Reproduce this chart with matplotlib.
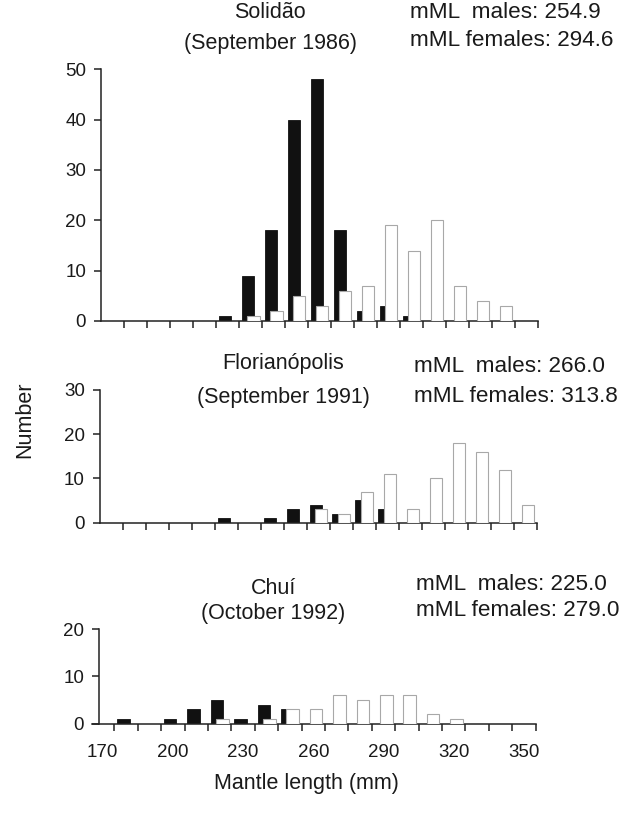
import matplotlib
matplotlib.use('Agg')
import matplotlib.pyplot as plt

plt.rcParams['font.family'] = ['Liberation Sans', 'DejaVu Sans']

# size classes (mm), class midpoints
classes = [170, 180, 190, 200, 210, 220, 230, 240, 250, 260,
           270, 280, 290, 300, 310, 320, 330, 340, 350]

# Solidao, September 1986
solidao_males = [0, 0, 0, 0, 0, 1, 9, 18, 40, 48, 18, 2, 3, 1, 0, 0, 0, 0, 0]
solidao_females = [0, 0, 0, 0, 0, 0, 1, 2, 5, 3, 6, 7, 19, 14, 20, 7, 4, 3, 0]

# Florianopolis, September 1991
floripa_males = [0, 0, 0, 0, 0, 1, 0, 1, 3, 4, 2, 5, 3, 0, 0, 0, 0, 0, 0]
floripa_females = [0, 0, 0, 0, 0, 0, 0, 0, 0, 3, 2, 7, 11, 3, 10, 18, 16, 12, 4]

# Chui, October 1992
chui_males = [0, 1, 0, 1, 3, 5, 1, 4, 3, 0, 0, 0, 0, 0, 0, 0, 0, 0, 0]
chui_females = [0, 0, 0, 0, 0, 1, 0, 1, 3, 3, 6, 5, 6, 6, 2, 1, 0, 0, 0]

titles = ['Solidão', 'Florianópolis', 'Chuí']
dates = ['(September 1986)', '(September 1991)', '(October 1992)']
mml_males = ['254.9', '266.0', '225.0']
mml_females = ['294.6', '313.8', '279.0']
ymax = [50, 30, 20]

txt = '#1a1a1a'
W, H = 619, 816
fig = plt.figure(figsize=(W / 100, H / 100), dpi=100)


def fx(px):
    return px / W


def fy(py):
    return 1 - py / H


# axes boxes in pixels: left, right, y of zero, y of top tick
boxes = [(101.3, 537.7, 321.0, 69.3),
         (100.0, 536.5, 522.5, 390.0),
         (92.3, 535.7, 723.5, 629.0)]
xlims = [(165, 355), (165, 355), (165.6, 355)]
males = [solidao_males, floripa_males, chui_males]
females = [solidao_females, floripa_females, chui_females]

for i in range(3):
    l, r, y0, y1 = boxes[i]
    ax = fig.add_axes([fx(l), fy(y0), fx(r - l), (y0 - y1) / H])
    xm = [c - 1.15 for c in classes]
    xf = [c + 1.2 for c in classes]
    ax.bar(xm, males[i], width=5.3, color='#111111', edgecolor='#111111',
           linewidth=0.6, zorder=2)
    hf = [v if v > 0 else float('nan') for v in females[i]]
    ax.bar(xf, hf, width=5.4, color='white', edgecolor='#a8a8a8',
           linewidth=0.8, zorder=3)
    ax.set_xlim(*xlims[i])
    ax.set_ylim(0, ymax[i])
    ax.set_yticks(range(0, ymax[i] + 1, 10))
    ax.set_xticks(range(175, 356, 10))
    ax.set_xticklabels([])
    for s in ['top', 'right']:
        ax.spines[s].set_visible(False)
    for s in ['left', 'bottom']:
        ax.spines[s].set_linewidth(1.1)
        ax.spines[s].set_color('#222222')
    if i == 2:
        ax.spines['left'].set_position(('data', 168.6))
    ax.tick_params(axis='both', direction='out', length=5, width=1.1,
                   color='#222222', labelsize=13.5, labelcolor=txt)
    ax.tick_params(axis='y', pad=6)
    ax.patch.set_alpha(0)
    if i == 2:
        ax.set_xticks(range(170, 351, 30), minor=True)
        ax.set_xticklabels([str(v) for v in range(170, 351, 30)], minor=True)
        ax.tick_params(axis='x', which='minor', length=0, pad=15,
                       labelsize=13.5, labelcolor=txt)

# panel headings
head_x = [270, 283, 273]
head_y = [(13, 43), (363, 397), (588, 614)]
mml_x = [410, 414, 416]
mml_y = [(13, 41), (367, 396), (584, 611)]
for i in range(3):
    fig.text(fx(head_x[i]), fy(head_y[i][0]), titles[i], ha='center',
             va='center', fontsize=15.5, color=txt)
    fig.text(fx(head_x[i]), fy(head_y[i][1]), dates[i], ha='center',
             va='center', fontsize=15.5, color=txt)
    fig.text(fx(mml_x[i]), fy(mml_y[i][0]), 'mML  males: ' + mml_males[i],
             ha='left', va='center', fontsize=16.2, color=txt)
    fig.text(fx(mml_x[i]), fy(mml_y[i][1]), 'mML females: ' + mml_females[i],
             ha='left', va='center', fontsize=16.2, color=txt)

fig.text(fx(25), fy(420), 'Number', rotation=90, ha='center', va='center',
         fontsize=15.5, color=txt)
fig.text(fx(306), fy(784), 'Mantle length (mm)', ha='center', va='center',
         fontsize=15.5, color=txt)

fig.savefig('out.png', dpi=100)
